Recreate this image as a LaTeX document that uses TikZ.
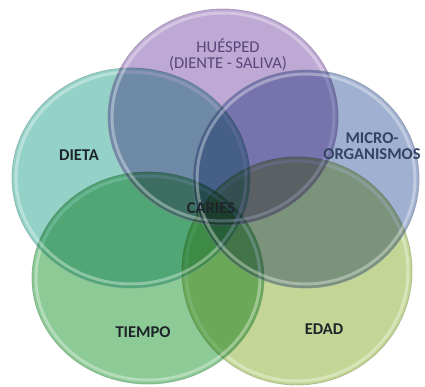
\documentclass[tikz,border=0pt]{standalone}
\usepackage{fontspec}
\setmainfont{Carlito}
\definecolor{cEdad}{RGB}{196,214,150}
\definecolor{cTiempo}{RGB}{140,202,150}
\definecolor{cDieta}{RGB}{148,210,200}
\definecolor{cHuesped}{RGB}{190,168,212}
\definecolor{cMicro}{RGB}{160,176,208}
\definecolor{txtDark}{RGB}{30,36,42}
\definecolor{txtPurple}{RGB}{88,70,122}
\definecolor{txtBlue}{RGB}{52,66,100}
\tikzset{
  circfill/.style={fill=#1, blend mode=multiply},
  circedge/.style={draw=#1!75!black, line width=0.8pt, draw opacity=0.6},
  gloss/.style={draw=white, line width=3pt, draw opacity=0.35},
  lbl/.style={font=\fontsize{16.5}{16}\selectfont\bfseries, text=txtDark, align=center, inner sep=0pt}
}
\newcommand{\vcirc}[5]{%
  \fill[circfill=#1] (#2,#3) ellipse [x radius=#4, y radius=#5];
  \draw[gloss] (#2,#3) ellipse [x radius=#4-4, y radius=#5-4];
  \draw[circedge=#1] (#2,#3) ellipse [x radius=#4, y radius=#5];
}
\begin{document}
\begin{tikzpicture}[x=1pt,y=-1pt]
\useasboundingbox (0,0) rectangle (425,387);
\fill[white] (0,0) rectangle (425,387);
\vcirc{cEdad}{297}{271}{115}{114}
\vcirc{cTiempo}{148}{278}{116}{106}
\vcirc{cDieta}{131}{178}{119}{110}
\vcirc{cHuesped}{223}{117}{115}{108}
\vcirc{cMicro}{306}{179}{113}{109}
\node[lbl] (dieta) at (79,155) {DIETA};
\node[lbl, text=txtPurple, font=\fontsize{16.5}{16}\selectfont] (huesped) at (228,55) {HUÉSPED\\(DIENTE - SALIVA)};
\node[lbl, text=txtBlue] (micro) at (372,146) {MICRO-\\ORGANISMOS};
\node[lbl] (caries) at (211,208) {CARIES};
\node[lbl] (tiempo) at (143,332) {TIEMPO};
\node[lbl] (edad) at (324,329) {EDAD};
\end{tikzpicture}
\end{document}
